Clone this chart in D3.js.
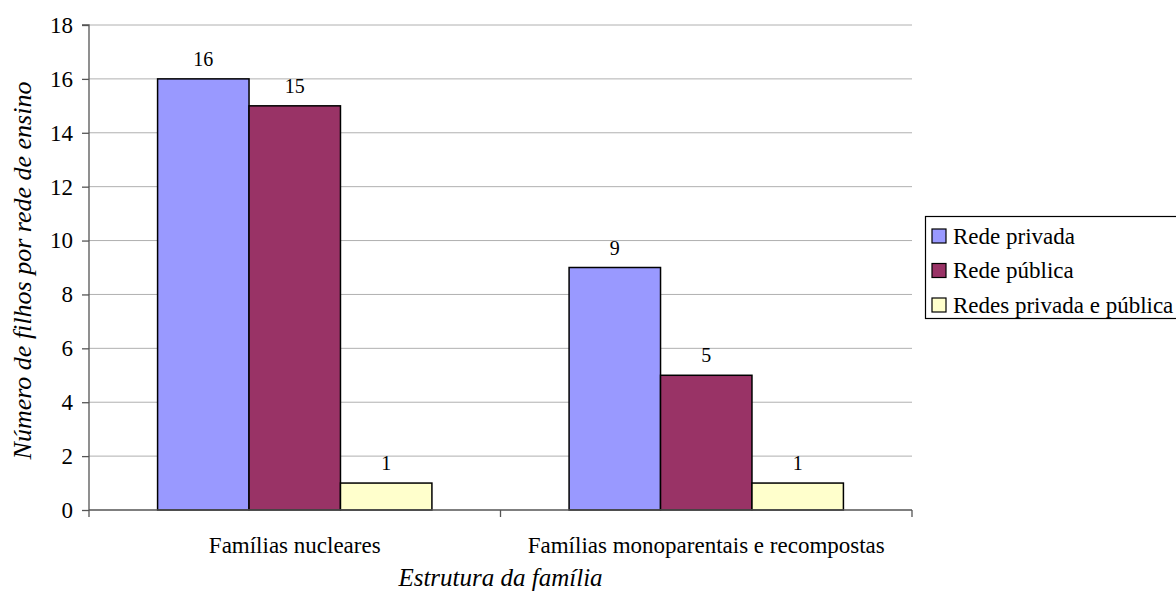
<!DOCTYPE html>
<html><head><meta charset="utf-8">
<script src="https://cdn.jsdelivr.net/npm/d3@7"></script>
<style>html,body{margin:0;padding:0;background:#fff;}svg{display:block;} svg text{font-family:"Liberation Serif","Times New Roman",Tinos,"DejaVu Serif",serif;}</style>
</head><body><svg id="c" width="1176" height="599"></svg>
<script>
const categories = ["Famílias nucleares", "Famílias monoparentais e recompostas"];
const seriesNames = ["Rede privada", "Rede pública", "Redes privada e pública"];
const valuesPrivada = [16, 9];
const valuesPublica = [15, 5];
const valuesAmbas = [1, 1];
const yTicks = [0, 2, 4, 6, 8, 10, 12, 14, 16, 18];
const colors = ["#9999FF", "#993366", "#FFFFCC"];
const seriesValues = [valuesPrivada, valuesPublica, valuesAmbas];

(function () {
const svg = d3.select("#c");
const font = '"Liberation Serif","Times New Roman",Tinos,"DejaVu Serif",serif';
const pLeft = 89, pRight = 912, pTop = 25, pBottom = 510;

const x0 = d3.scaleBand().domain(categories).range([pLeft, pRight]).paddingInner(0).paddingOuter(0);
const x1 = d3.scaleBand().domain(seriesNames).range([0, x0.bandwidth()]).paddingInner(0).paddingOuter(0.75);
const y = d3.scaleLinear().domain([0, 18]).range([pBottom, pTop]);

// gridlines
svg.append("g").selectAll("line").data(yTicks.filter(d => d > 0)).join("line")
  .attr("x1", pLeft).attr("x2", pRight)
  .attr("y1", d => y(d)).attr("y2", d => y(d))
  .attr("stroke", "#b0b0b0").attr("stroke-width", 1);

// bars
const data = [];
categories.forEach((c, i) => seriesNames.forEach((s, j) => data.push({c, s, v: seriesValues[j][i], j})));
svg.append("g").selectAll("rect").data(data).join("rect")
  .attr("x", d => x0(d.c) + x1(d.s))
  .attr("y", d => y(d.v))
  .attr("width", x1.bandwidth())
  .attr("height", d => y(0) - y(d.v))
  .attr("fill", d => colors[d.j])
  .attr("stroke", "#000").attr("stroke-width", 1.5);

// value labels
svg.append("g").selectAll("text").data(data).join("text")
  .attr("x", d => x0(d.c) + x1(d.s) + x1.bandwidth() / 2)
  .attr("y", d => y(d.v) - 13)
  .attr("text-anchor", "middle")
  .style("font-family", font).style("font-size", "20px")
  .text(d => d.v);

// y axis
const yAxis = svg.append("g").attr("transform", `translate(${pLeft},0)`)
  .call(d3.axisLeft(y).tickValues(yTicks).tickSize(7).tickPadding(9).tickFormat(d3.format("d")));
yAxis.attr("font-family", null).attr("font-size", null);
yAxis.selectAll("path,line").attr("stroke", "#555").attr("stroke-width", 1.3);
yAxis.select(".domain").attr("d", `M-7,${y(18)}H0V${y(0)}`);
yAxis.selectAll("text").style("font-family", font).style("font-size", "23px").attr("fill", "#000");

// x axis
const xAxis = svg.append("g").attr("transform", `translate(0,${pBottom})`)
  .call(d3.axisBottom(x0).tickSize(0).tickPadding(27));
xAxis.attr("font-family", null).attr("font-size", null);
xAxis.select(".domain").attr("d", `M${pLeft},0H${pRight}`).attr("stroke", "#555").attr("stroke-width", 1.3);
xAxis.selectAll("text").style("font-family", font).style("font-size", "23px").attr("fill", "#000");
const bounds = [pLeft, x0(categories[1]), pRight];
svg.append("g").selectAll("line").data(bounds).join("line")
  .attr("x1", d => d).attr("x2", d => d).attr("y1", pBottom).attr("y2", pBottom + 7)
  .attr("stroke", "#555").attr("stroke-width", 1.3);

// axis titles
svg.append("text").attr("x", (pLeft + pRight) / 2).attr("y", 586)
  .attr("text-anchor", "middle").style("font-family", font).style("font-size", "25px")
  .style("font-style", "italic").text("Estrutura da família");
svg.append("text").attr("transform", `translate(31,${(pTop + pBottom) / 2 + 3}) rotate(-90)`)
  .attr("text-anchor", "middle").style("font-family", font).style("font-size", "26px")
  .style("font-style", "italic").text("Número de filhos por rede de ensino");

// legend
const lg = svg.append("g");
lg.append("rect").attr("x", 925.5).attr("y", 216.5).attr("width", 260).attr("height", 102)
  .attr("fill", "#fff").attr("stroke", "#000").attr("stroke-width", 1.2);
const items = lg.selectAll("g.item").data(seriesNames).join("g")
  .attr("transform", (d, i) => `translate(932,${236 + i * 34.5})`);
items.append("rect").attr("x", 0).attr("y", -7).attr("width", 14).attr("height", 14)
  .attr("fill", (d, i) => colors[i]).attr("stroke", "#000").attr("stroke-width", 1.2);
items.append("text").attr("x", 21).attr("y", 0).attr("dy", "0.33em")
  .style("font-family", font).style("font-size", "23px").text(d => d);
})();
</script></body></html>
